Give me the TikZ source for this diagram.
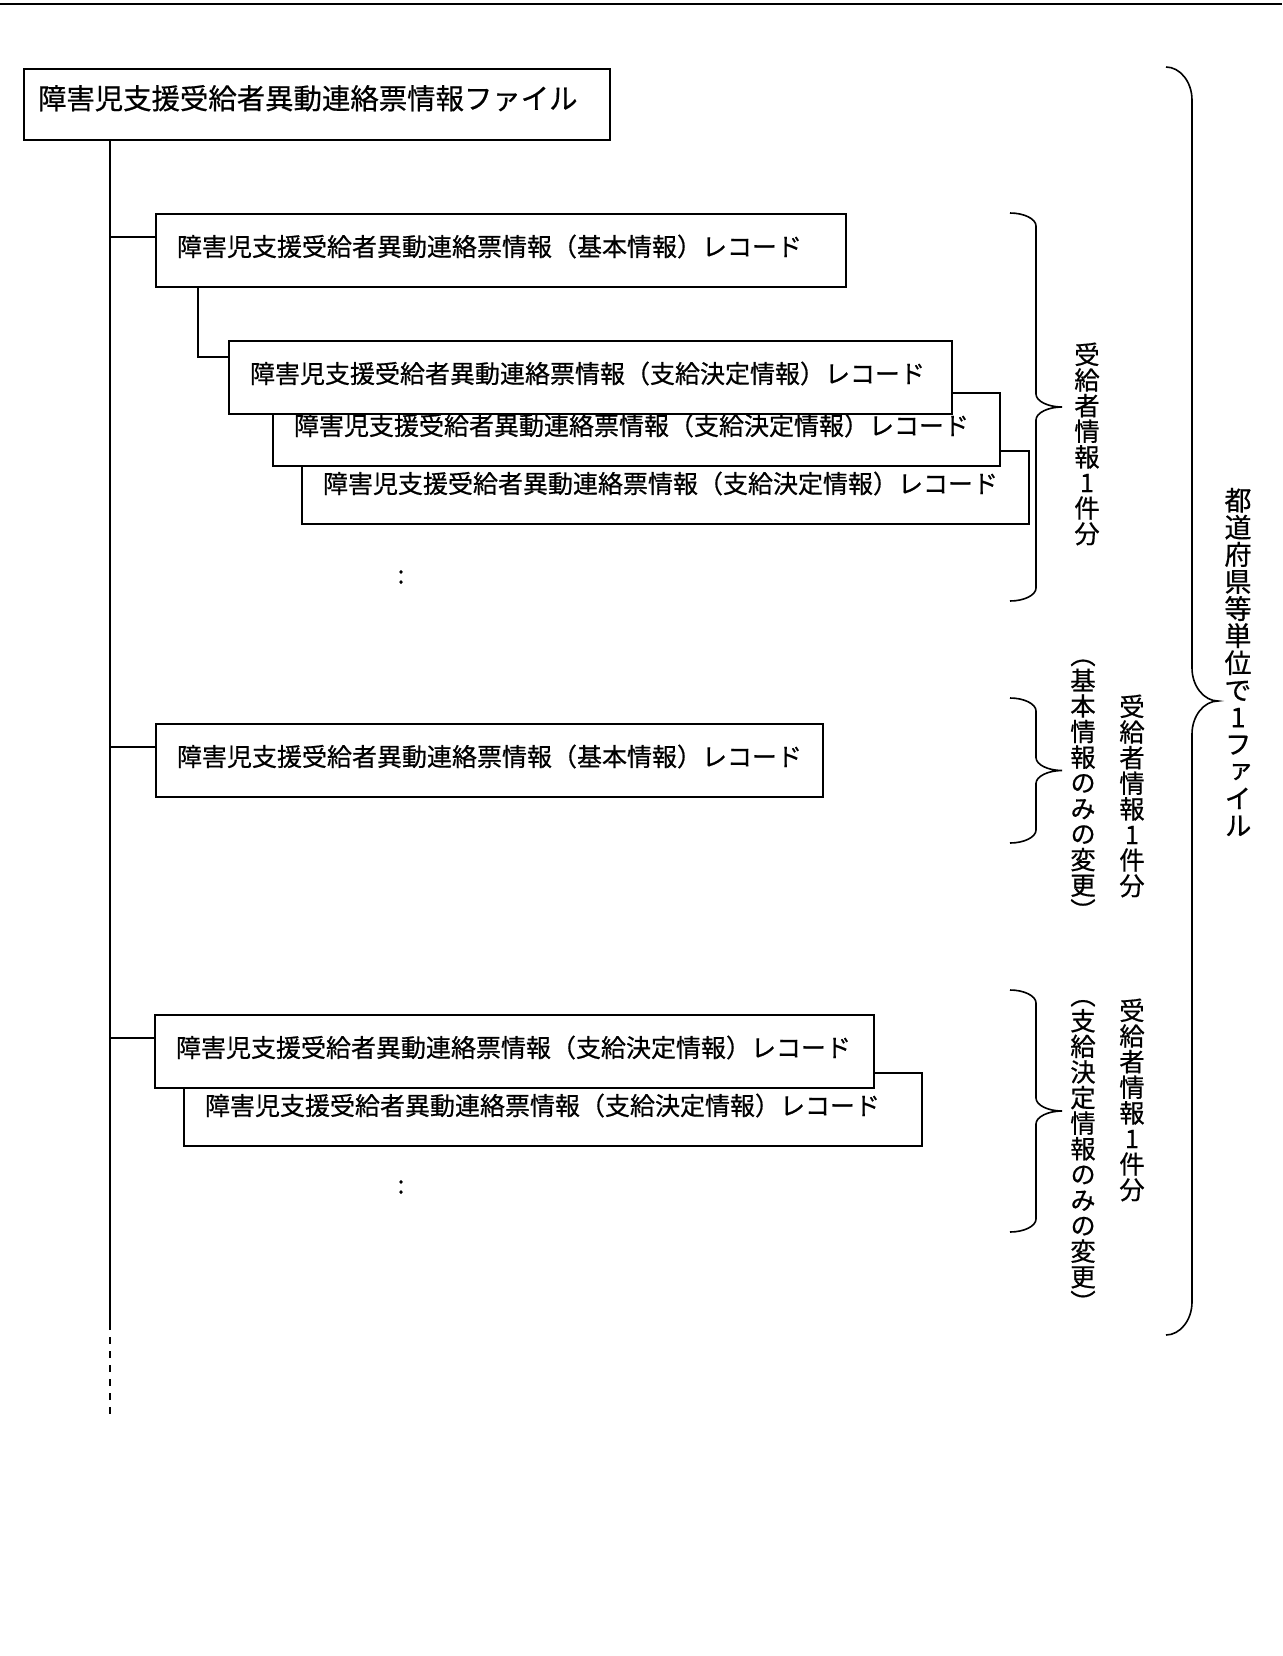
\documentclass[tikz,border=0pt]{standalone}
\usepackage{fontspec}
\setmainfont{Noto Sans CJK JP}[FakeBold=0.6]
\newfontfamily\tatefont[RawFeature=+vert, FakeBold=0.6]{Noto Sans CJK JP}
\usetikzlibrary{positioning, calc}

% curly bracket: x of the ends, top, bottom, curl size
\newcommand{\grpbrace}[4]{%
  \draw[bracel] (#1,#2)
    .. controls ({#1+14},#2) and ({#1+26},{#2+0.45*#4}) .. ({#1+26},{#2+#4})
    -- ({#1+26},{(#2+#3)/2-#4})
    .. controls ({#1+26},{(#2+#3)/2-0.45*#4}) and ({#1+38},{(#2+#3)/2}) .. ({#1+52},{(#2+#3)/2})
    .. controls ({#1+38},{(#2+#3)/2}) and ({#1+26},{(#2+#3)/2+0.45*#4}) .. ({#1+26},{(#2+#3)/2+#4})
    -- ({#1+26},{#3-#4})
    .. controls ({#1+26},{#3-0.45*#4}) and ({#1+14},#3) .. (#1,#3);
}

\begin{document}
\begin{tikzpicture}[
  x=0.5pt, y=-0.5pt,
  filebox/.style={rectangle, draw=black, line width=1pt, fill=white, anchor=north west, align=left, font=\fontsize{14.2pt}{16pt}\selectfont, minimum height=35.5pt, inner xsep=7pt, text width=279pt, text height=12.5pt, text depth=8pt},
  recbox/.style={rectangle, draw=black, line width=1pt, fill=white, anchor=north west, align=left, font=\fontsize{12.5pt}{14pt}\selectfont, minimum height=36.5pt, inner xsep=10.5pt, text height=11pt, text depth=5.5pt},
  link/.style={draw=black, line width=0.7pt},
  bracel/.style={draw=black, line width=0.8pt},
  tatelbl/.style={align=center, inner sep=0pt, font=\tatefont\fontsize{12.7pt}{12.8pt}\selectfont},
  dotlbl/.style={inner sep=0pt, font=\fontsize{12.5pt}{14pt}\selectfont}
]
\useasboundingbox (0,0) rectangle (1282,1656);
\draw[line width=1pt] (0,4) -- (1282,4);

% File box and trunk
\node[filebox] (file) at (23,68) {障害児支援受給者異動連絡票情報ファイル};
\coordinate (tend) at (110,1330);
\coordinate (tdash) at (110,1420);
\draw[link] (file.south -| tend) -- (tend);
\draw[link, dash pattern=on 3.5pt off 3.5pt, dash phase=3.5pt] (tend) -- (tdash);

% Recipient 1: basic + decisions
\node[recbox, text width=324pt] (basic1) at (155,213) {障害児支援受給者異動連絡票情報（基本情報）レコード};
\node[recbox, text width=342.5pt] (dec3) at (301,450) {障害児支援受給者異動連絡票情報（支給決定情報）レコード};
\node[recbox, text width=342.5pt] (dec2) at ([xshift=-14.5pt, yshift=29pt]dec3.north west) {障害児支援受給者異動連絡票情報（支給決定情報）レコード};
\node[recbox, text width=340.5pt] (dec1) at ([xshift=-22pt, yshift=26pt]dec2.north west) {障害児支援受給者異動連絡票情報（支給決定情報）レコード};
\draw[link] ([xshift=21.5pt]basic1.south west) |- ([yshift=-8.5pt]dec1.north west);
\node[dotlbl] (more1) at (401,577) {:};

% Recipient 2: basic only
\node[recbox, text width=312.5pt] (basic2) at (155,723) {障害児支援受給者異動連絡票情報（基本情報）レコード};

% Recipient 3: decisions only
\node[recbox, text width=348pt] (dec5) at (183,1072) {障害児支援受給者異動連絡票情報（支給決定情報）レコード};
\node[recbox, text width=338.5pt] (dec4) at ([xshift=-14.5pt, yshift=29pt]dec5.north west) {障害児支援受給者異動連絡票情報（支給決定情報）レコード};
\node[dotlbl] (more2) at (401,1187) {:};

% Branches off the trunk
\foreach \b in {basic1, basic2, dec4} {
  \coordinate (jn) at ([yshift=-12pt]\b.north west);
  \draw[link] (jn -| tend) -- (jn);
}

% Braces
\grpbrace{1010}{213}{601}{13}
\grpbrace{1010}{698}{843}{13}
\grpbrace{1010}{990}{1232}{13}
\grpbrace{1166}{67}{1335}{33}

% Vertical labels
\node[tatelbl] (g1lbl) at (1087,444) {受\\給\\者\\情\\報\\1\\件\\分};
\node[tatelbl] (g2note) at (1083,790) {（\\基\\本\\情\\報\\の\\み\\の\\変\\更\\）};
\node[tatelbl] (g2lbl) at (1132,796) {受\\給\\者\\情\\報\\1\\件\\分};
\node[tatelbl] (g3note) at (1083,1156) {（\\支\\給\\決\\定\\情\\報\\の\\み\\の\\変\\更\\）};
\node[tatelbl] (g3lbl) at (1132,1100) {受\\給\\者\\情\\報\\1\\件\\分};
\node[tatelbl, font=\tatefont\fontsize{13.5pt}{13.55pt}\selectfont] (alllbl) at (1238,662) {都\\道\\府\\県\\等\\単\\位\\で\\1\\フ\\ァ\\イ\\ル};

\end{tikzpicture}
\end{document}
